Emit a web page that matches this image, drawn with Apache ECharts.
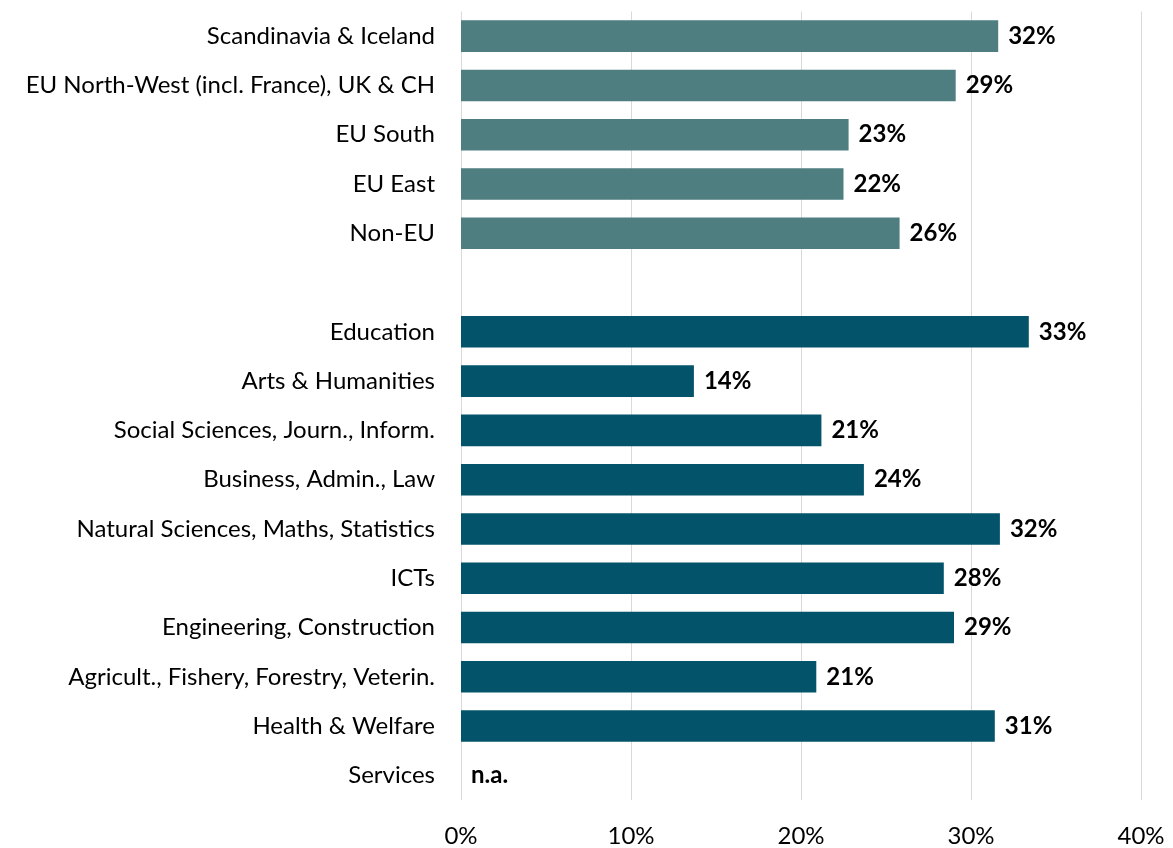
<!DOCTYPE html>
<html>
<head>
<meta charset="utf-8">
<script src="https://cdn.jsdelivr.net/npm/echarts@6/dist/echarts.min.js"></script>
<style>html,body{margin:0;padding:0;background:#fff;}#c{width:1173px;height:848px;}</style>
</head>
<body>
<div id="c"></div>
<script>
const categories = ['Scandinavia & Iceland','EU North-West (incl. France), UK & CH','EU South','EU East','Non-EU','',
  'Education','Arts & Humanities','Social Sciences, Journ., Inform.','Business, Admin., Law','Natural Sciences, Maths, Statistics',
  'ICTs','Engineering, Construction','Agricult., Fishery, Forestry, Veterin.','Health & Welfare','Services'];
const values = [31.6, 29.1, 22.8, 22.5, 25.8, null, 33.4, 13.7, 21.2, 23.7, 31.7, 28.4, 29.0, 20.9, 31.4, 0];
const valueLabels = ['32%','29%','23%','22%','26%','', '33%','14%','21%','24%','32%','28%','29%','21%','31%','n.a.'];
const groups = ['region','region','region','region','region','', 'field','field','field','field','field','field','field','field','field','field'];
const xTicks = [0, 10, 20, 30, 40];

const colors = { region: '#4E7E80', field: '#03546A', '': '#03546A' };
const FONT = 'Lato';

const chart = echarts.init(document.getElementById('c'), null, { renderer: 'canvas' });
chart.setOption({
  animation: false,
  backgroundColor: '#ffffff',
  grid: { left: 461, right: 32, top: 11.5, bottom: 48, containLabel: false },
  xAxis: {
    type: 'value', min: xTicks[0], max: xTicks[xTicks.length - 1], interval: 10,
    axisLine: { show: false }, axisTick: { show: false },
    splitLine: { show: true, lineStyle: { color: '#d9d9d9', width: 1 } },
    axisLabel: { formatter: v => v + '%', color: '#000', fontSize: 24, fontFamily: FONT, margin: 24 }
  },
  yAxis: {
    type: 'category', data: categories, inverse: true,
    axisLine: { show: false }, axisTick: { show: false },
    axisLabel: { color: '#000', fontSize: 24, fontFamily: FONT, margin: 26 }
  },
  series: [{
    type: 'bar',
    barCategoryGap: '36%',
    data: values.map((v, i) => ({
      value: v,
      itemStyle: { color: colors[groups[i]] },
      label: { formatter: valueLabels[i] }
    })),
    label: {
      show: true, position: 'right', distance: 10,
      color: '#000', fontSize: 24, fontWeight: 'bold', fontFamily: FONT
    }
  }]
});
</script>
</body>
</html>
